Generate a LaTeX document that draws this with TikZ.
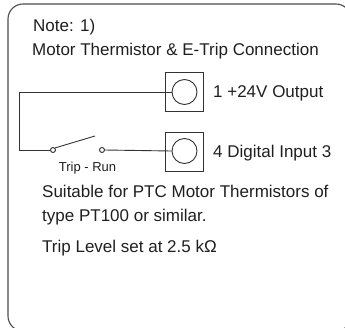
\documentclass[tikz,border=0pt]{standalone}
\usepackage{fontspec}
\setmainfont{Liberation Sans}
\begin{document}
\begin{tikzpicture}[x=1pt,y=-1pt,
  ink/.style={draw=black!80, line width=0.9pt},
  txt/.style={anchor=base west, inner sep=0pt, font=\fontsize{17}{20}\selectfont, text=black!88},
  termbox/.style={ink, minimum width=38pt, minimum height=39pt, inner sep=0pt},
  termcirc/.style={ink, circle, minimum size=25pt, inner sep=0pt},
  sw/.style={ink, circle, minimum size=5pt, inner sep=0pt, fill=white}]
\useasboundingbox (0,0) rectangle (345,327);
\draw[draw=black!70, line width=1.1pt, rounded corners=15pt] (8,4) rectangle (351,331);
\node[txt] (n1) at (33,31) {Note: 1)};
\node[txt] (n2) at (32,55) {Motor Thermistor \& E-Trip Connection};
\node[termbox] (b1) at (184.5,91.5) {};
\node[termcirc] (c1) at (184.5,92) {};
\node[termbox] (b2) at (184.5,151.5) {};
\node[termcirc] (c2) at (184.5,151) {};
\node[txt] (l1) at (213,97) {1 +24V Output};
\node[txt] (l2) at (213,157) {4 Digital Input 3};
\coordinate (corner) at (19,92);
\node[sw] (t1) at (53,150) {};
\node[sw] (t2) at (102,150) {};
\coordinate (blade) at (95,136);
\draw[ink] (c1.west) -- (corner) |- (t1.west);
\draw[ink] (t1.north east) -- (blade);
\draw[ink] (t2.east) -- (c2.west);
\node[anchor=base, inner sep=0pt, font=\fontsize{13}{15}\selectfont, text=black!88] (tr) at (87.5,171) {Trip - Run};
\node[txt] (s1) at (42,197) {Suitable for PTC Motor Thermistors of};
\node[txt] (s2) at (42,221) {type PT100 or similar.};
\node[txt] (s3) at (42,252) {Trip Level set at 2.5 kΩ};
\end{tikzpicture}
\end{document}
